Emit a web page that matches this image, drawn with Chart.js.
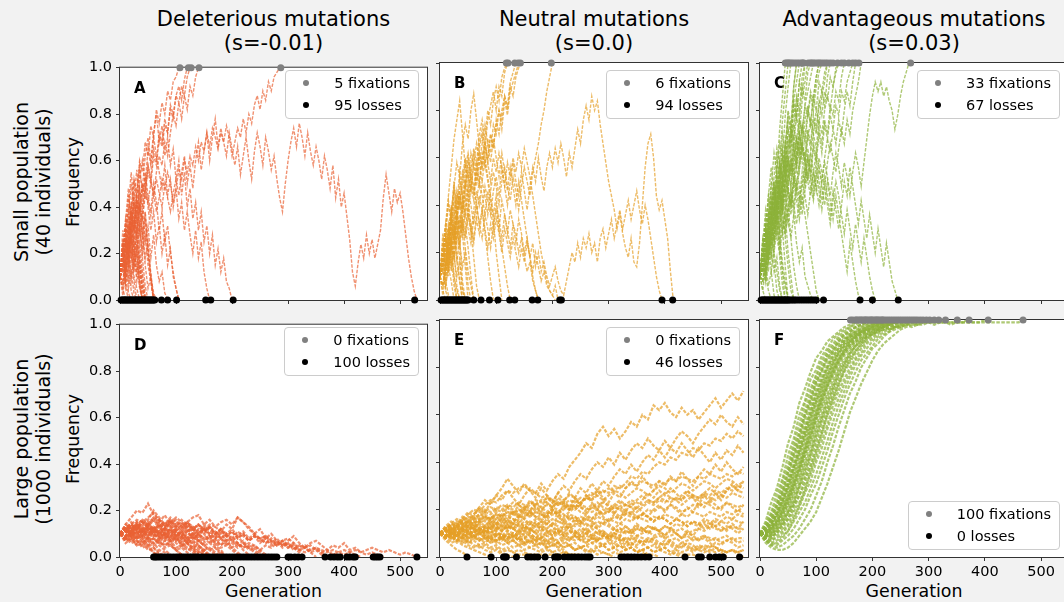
<!DOCTYPE html>
<html>
<head>
<meta charset="utf-8">
<script src="https://cdn.jsdelivr.net/npm/chart.js@4.4.0/dist/chart.umd.min.js"></script>
<style>
  body { margin: 0; width: 1064px; height: 602px; background: #f2f2f2; position: relative; overflow: hidden;
         font-family: "DejaVu Sans", sans-serif; color: #000; }
  canvas { position: absolute; }
  .title { position: absolute; top: 7px; width: 340px; text-align: center; font-size: 21px; line-height: 24px; white-space: nowrap; }
  .rot { position: absolute; text-align: center; transform: rotate(-90deg); white-space: nowrap; }
  .xlab { position: absolute; width: 200px; text-align: center; font-size: 17.4px; line-height: 20px; }
  .legend { position: absolute; background: rgba(255,255,255,0.85); border: 1px solid #cccccc; border-radius: 4px;
            padding: 1px 8px 2px 0; font-size: 14.5px; z-index: 5; }
  .legend .row { height: 22px; display: flex; align-items: center; padding-left: 17px; white-space: nowrap; }
  .legend .dot { width: 6px; height: 6px; border-radius: 50%; margin-right: 25px; display: inline-block; }
</style>
</head>
<body>
<script>
// generations between stored samples
const STEP_SMALL = 5;
const STEP_LARGE = 10;

// frequencies in percent, one array per simulated mutation
const trajA = [
  [10,5,0],
  [10,18,8,3,0],
  [10,14,6,0],
  [10,20,28,15,22,10,5,0],
  [10,15,30,22,38,25,12,18,5,0],
  [10,22,12,28,40,30,45,32,20,28,15,8,0],
  [10,8,15,5,12,3,0],
  [10,25,18,35,50,38,28,42,30,18,25,10,3,0],
  [10,12,20,33,25,15,20,8,0],
  [10,18,30,45,35,52,40,30,22,35,20,12,0],
  [10,5,12,20,10,25,15,5,0],
  [10,20,12,8,18,28,20,35,28,15,5,10,0],
  [10,26,16,30,20,8,0],
  [10,16,24,14,30,40,26,16,6,0],
  [10,30,20,36,24,42,34,20,10,0],
  [10,20,6,16,28,12,24,8,0],
  [10,2,12,22,8,18,30,14,4,0],
  [10,16,30,18,34,22,10,26,12,2,0],
  [10,24,10,20,32,20,8,14,0],
  [10,6,18,10,24,36,22,32,18,6,0],
  [10,18,28,40,26,14,22,6,0],
  [10,12,26,14,28,18,30,46,28,38,22,10,0],
  [10,22,8,14,4,0],
  [10,20,34,48,30,44,56,40,26,38,20,8,0],
  [10,15,25,40,55,42,35,48,38,25,32,18,28,15,8,12,3,0],
  [10,22,35,28,42,30,48,58,45,52,40,30,38,25,32,20,28,15,22,10,5,0],
  [10,15,25,20,32,42,35,48,40,55,45,38,50,42,30,38,25,32,20,12,5,0],
  [10,18,28,22,35,45,38,52,60,50,65,58,70,62,55,48,58,45,52,40,48,35,42,30,38,28,20,30,18,25,12,5,0],
  [10,20,15,28,38,30,45,55,48,62,70,60,72,80,68,75,62,70,58,65,52,60,45,55,40,48,35,42,30,38,25,32,20,28,15,22,12,18,8,5,0],
  [10,20,32,25,40,52,45,60,55,68,62,75,70,82,76,85,80,90,86,94,96,100],
  [10,15,28,20,35,30,42,38,50,45,58,52,65,60,72,68,78,72,84,80,88,92,86,95,100],
  [10,8,18,25,18,30,28,40,35,48,55,50,62,58,70,66,75,72,82,78,88,85,92,88,96,100],
  [10,18,12,25,35,30,42,38,50,48,58,52,45,55,62,58,68,62,72,80,75,85,78,88,82,92,88,96,100],
  [10,15,22,18,28,35,30,40,35,45,42,50,46,38,44,52,48,55,50,42,48,56,52,60,55,62,58,66,60,68,
   64,72,66,74,70,65,72,68,75,70,62,68,74,70,78,72,80,76,84,88,82,90,86,94,90,96,98,100],
  [10,18,12,22,30,25,35,28,40,48,42,36,45,52,46,40,50,44,38,46,
   52,45,55,62,50,58,48,60,68,56,64,72,60,70,78,66,74,68,62,72,
   65,58,66,54,62,70,60,52,64,72,66,58,70,64,56,62,52,44,38,50,
   60,68,74,66,76,70,62,72,64,58,66,60,52,62,56,48,58,44,52,40,
   46,36,26,12,6,16,24,18,28,20,26,18,24,30,44,54,46,38,48,42,
   46,38,28,18,10,4,0]
];
const fixA = [107, 122, 127, 141, 287];
const lossA = [2,4,6,8,10,12,14,16,18,20,22,24,26,28,30,32,34,36,38,40,42,44,46,48,50,52,54,56,58,60,62,
  74, 85, 101, 153, 162, 202, 526];

const trajB = [
  [10,4,0],
  [10,16,8,2,0],
  [10,18,26,16,22,10,4,0],
  [10,14,24,32,22,28,16,8,0],
  [10,20,30,42,34,26,36,24,14,20,6,0],
  [10,6,12,20,28,18,10,16,4,0],
  [10,22,16,28,36,46,38,28,34,22,12,6,0],
  [10,12,6,14,8,0],
  [10,24,32,22,36,48,40,54,44,32,22,10,0],
  [10,20,6,14,24,10,0],
  [10,2,14,26,12,20,6,0],
  [10,18,30,16,26,38,20,8,0],
  [10,24,12,30,18,6,0],
  [10,6,16,28,40,24,34,18,4,0],
  [10,16,26,10,22,32,16,26,8,0],
  [10,28,14,24,36,50,34,44,28,14,0],
  [10,12,4,0],
  [10,20,32,44,56,68,76,84,70,56,44,30,18,6,0],
  [10,18,28,40,34,48,58,52,66,74,68,80,87,76,64,70,58,50,42,34,20,10,0],
  [10,16,26,20,34,42,36,50,44,56,62,54,48,40,32,38,28,18,8,0],
  [10,20,14,28,38,30,46,40,52,60,52,46,58,66,58,50,60,52,44,36,44,30,22,14,6,0],
  [10,14,22,30,24,36,44,38,50,58,50,62,56,48,58,66,74,66,58,68,60,52,62,54,46,56,48,40,50,42,34,26,18,10,4,0],
  [10,18,12,24,32,26,38,30,42,36,48,40,32,42,50,44,36,46,38,30,40,34,26,36,30,22,32,28,20,26,18,12,16,8,4,0],
  [10,16,24,18,30,26,36,44,38,48,54,46,58,50,62,56,64,58,50,60,54,62,56,48,58,52,60,54,62,56,64,58,52,44,36,28,20,14,8,4,2,6,0],
  [10,14,20,12,22,18,28,24,32,26,36,30,24,34,28,38,30,22,32,26,34,28,20,30,24,18,26,20,14,22,16,24,18,12,20,14,8,12,6,4,2,0],
  [10,18,26,20,32,40,34,46,54,48,60,52,64,58,70,76,68,80,74,84,90,84,94,98,100],
  [10,6,14,22,16,28,36,30,42,50,44,56,62,54,66,72,64,76,82,88,80,90,86,96,100],
  [10,16,12,22,30,24,34,42,36,48,40,52,46,58,50,62,56,68,62,74,70,80,76,86,82,92,96,100],
  [10,20,14,26,34,28,40,46,38,50,58,50,44,54,62,56,66,60,70,64,74,80,72,84,78,88,92,96,100],
  [10,14,8,18,26,20,32,26,38,44,36,48,42,54,48,60,66,58,70,64,76,70,80,86,80,90,86,94,98,100],
  [10,16,22,14,26,32,24,36,30,42,36,28,38,46,40,50,44,36,46,54,48,40,50,56,48,42,52,46,38,48,56,50,44,54,60,66,74,80,88,94,100],
  [10,16,10,20,14,24,30,22,34,28,38,32,26,36,44,38,48,42,36,46,
   52,44,56,48,40,50,58,50,44,54,46,38,48,56,50,60,52,46,56,62,
   56,64,58,66,60,52,62,56,64,72,66,76,82,76,86,80,84,74,66,58,
   50,44,38,30,36,28,22,18,26,16,14,24,40,56,66,70,60,44,38,42,
   34,26,12,0],
  [10,14,20,12,24,18,28,34,26,38,30,24,34,40,32,26,36,30,22,32,
   38,30,42,36,28,38,32,24,34,28,20,26,18,24,14,20,12,16,10,6,
   10,14,8,4,2,8,14,20,16,24,18,26,22,28,20,24,16,26,30,22,
   28,34,26,32,38,30,36,42,34,40,46,38,32,40,34,26,18,10,4,0]
];
const fixB = [118, 121, 133, 139, 143, 198];
const lossB = [2,4,6,8,10,12,14,16,18,20,22,24,26,28,30,32,34,36,38,40,42,44,46,48,50,
  60, 73, 88, 103, 124, 133, 164, 174, 213, 216, 395, 414];

const trajC = [
  [10,4,0],
  [10,18,10,4,0],
  [10,20,30,22,34,20,12,4,0],
  [10,14,24,36,28,44,34,22,12,6,0],
  [10,22,32,44,56,46,36,50,38,26,14,4,0],
  [10,8,16,6,12,2,0],
  [10,16,26,18,30,42,52,40,28,36,20,10,0],
  [10,20,14,26,38,30,46,58,44,32,40,26,14,6,0],
  [10,12,22,30,20,12,18,6,0],
  [10,24,34,26,40,48,36,28,16,8,0],
  [10,22,8,18,30,16,4,0],
  [10,4,14,26,12,22,34,18,6,0],
  [10,18,32,20,36,50,34,46,30,14,0],
  [10,26,14,32,46,30,42,26,12,0],
  [10,18,26,36,28,42,50,44,38,46,34,26,36,24,16,22,10,6,2,0],
  [10,22,14,28,36,30,44,38,50,58,48,40,50,42,34,44,36,28,20,12,4,0],
  [10,16,24,34,28,40,48,42,54,62,56,68,74,66,58,68,60,52,62,54,46,56,48,40,50,42,34,44,36,28,20,12,24,16,8,2,0],
  [10,20,30,24,36,44,38,50,58,52,64,70,62,56,66,58,50,60,52,44,54,46,38,48,40,32,42,50,44,36,28,38,30,22,32,24,16,26,18,10,4,0],
  [10,18,12,24,32,26,38,46,40,52,60,54,66,58,70,62,54,64,56,48,58,50,42,52,44,36,46,38,30,40,50,44,56,48,40,32,42,34,26,36,28,20,30,22,14,24,16,8,4,0],
  [10,24,38,30,48,62,54,72,86,100],
  [10,18,30,44,36,52,64,58,76,88,100],
  [10,22,16,30,42,36,54,66,60,78,90,100],
  [10,14,26,20,34,46,40,56,50,66,78,72,90,100],
  [10,26,20,36,50,42,60,52,70,62,80,74,90,100],
  [10,20,30,24,38,50,44,58,52,66,76,70,84,92,100],
  [10,14,30,22,40,32,52,44,62,54,72,64,82,76,92,100],
  [10,16,8,20,32,26,40,52,46,58,68,62,74,86,80,94,100],
  [10,20,12,28,44,36,54,46,64,56,72,66,84,78,92,86,100],
  [10,22,30,22,36,46,38,52,60,52,64,72,66,78,70,84,92,100],
  [10,18,26,40,32,48,40,58,50,66,58,74,68,84,76,90,84,96,100],
  [10,12,20,28,20,34,42,34,48,56,50,62,54,68,76,70,82,88,94,100],
  [10,18,26,18,30,40,34,46,38,50,58,52,64,58,70,64,76,82,74,86,94,100],
  [10,8,22,16,32,26,42,36,52,46,60,54,68,62,76,70,82,78,88,84,94,100],
  [10,14,22,30,24,36,28,42,50,44,56,48,60,68,62,74,66,78,86,80,90,96,100],
  [10,20,12,24,32,26,38,30,44,52,46,58,50,62,70,64,58,68,76,70,80,74,86,92,100],
  [10,16,28,20,34,44,36,52,44,60,54,48,60,68,62,74,68,80,74,86,80,92,88,96,100],
  [10,8,16,24,18,30,38,32,44,38,50,58,52,46,56,64,58,70,64,76,70,82,88,82,94,100],
  [10,16,24,32,24,36,44,36,48,40,52,60,54,48,58,66,60,72,66,78,72,84,78,88,84,94,90,98,100],
  [10,12,24,18,30,40,32,46,38,52,46,40,52,60,54,66,58,50,62,70,64,76,70,80,86,80,90,96,100],
  [10,14,20,12,24,32,26,20,30,38,32,44,36,48,42,54,48,60,54,66,60,72,66,76,70,82,78,88,84,94,100],
  [10,20,14,26,36,28,40,48,40,52,44,36,48,56,48,40,52,60,52,64,58,70,62,74,68,78,72,82,78,88,84,92,96,100],
  [10,18,12,22,30,24,36,28,40,34,46,40,52,46,38,48,56,50,44,54,62,56,50,60,68,62,72,66,76,70,80,88,82,92,100],
  [10,14,8,18,26,20,30,24,34,28,38,46,40,50,44,36,46,54,48,42,52,60,54,48,58,66,60,54,64,72,66,76,70,80,86,92,100],
  [10,16,24,18,30,38,32,44,36,28,38,46,40,32,42,50,44,36,46,54,48,40,50,58,52,44,54,62,56,48,58,52,44,54,62,56,48,
   58,68,78,86,92,88,92,86,90,84,80,72,78,86,92,96,100]
];
const fixC = [45,48,50,52,55,58,62,66,70,74,76,78,86,90,92,95,98,102,105,108,112,116,120,125,130,138,145,150,158,165,170,176,268];
const lossC = [2,4,6,8,10,12,14,16,18,20,22,24,26,28,30,32,34,36,38,40,42,44,46,48,50,52,55,58,61,64,68,72,76,80,84,88,92,96,100,
  113, 178, 200, 246];

const trajD = [
  [10,12,9,13,11,15,12,14,10,13,11,14,12,9,12,10,13,11,8,10,12,9,11,8,10,7,9,6,8,5,7,9,6,4,6,7,5,3,5,4,6,3,4,2,3,4,3,2,3,2,1,2,1,0],
  [10,14,17,20,19,23,18,16,13,15,12,10,13,11,9,12,10,8,10,7,9,6,4,5,3,1,0],
  [10,8,11,13,10,14,12,16,13,15,14,12,15,17,18,14,16,13,11,14,12,17,15,13,10,12,8,10,7,5,6,4,2,0],
  [10,12,15,13,16,14,17,15,18,14,16,13,15,12,14,11,13,10,12,9,11,8,10,7,9,8,6,8,5,7,8,6,4,5,3,4,2,0],
  [10,11,8,10,7,9,6,8,5,6,3,4,2,0],
  [10,9,12,10,13,11,9,12,10,8,11,9,7,10,8,6,9,7,5,8,6,4,6,3,4,2,0],
  [10,7,9,6,8,5,6,3,2,0],
  [10,13,11,14,12,10,13,11,9,12,10,8,6,9,7,5,3,4,1,0],
  [10,8,6,7,4,5,2,0],
  [10,12,14,12,15,13,11,14,12,15,13,16,14,12,10,13,11,9,12,10,8,11,9,7,9,6,8,5,7,4,6,3,5,4,2,3,1,0],
  [10,11,13,11,9,12,10,8,10,7,9,6,8,5,3,1,0],
  [10,9,7,9,6,8,5,7,4,5,3,1,0],
  [10,12,10,13,15,13,16,14,12,15,17,15,13,11,14,12,10,8,11,9,7,5,7,4,2,0],
  [10,11,9,12,10,8,11,9,7,9,6,4,6,3,1,0],
  [10,8,10,8,9,7,8,6,5,7,4,5,3,4,2,1,0],
  [10,13,12,14,16,14,17,15,13,16,14,12,15,13,11,14,12,10,12,9,11,8,10,7,9,8,6,7,5,6,4,5,3,4,5,3,2,3,1,2,3,2,1,0],
  [10,9,11,8,10,12,9,11,8,10,7,9,6,7,5,3,4,2,0],
  [10,12,9,11,8,6,8,5,3,1,0],
  [10,7,8,5,6,3,4,1,0],
  [10,11,14,12,10,13,11,9,12,14,11,9,11,8,10,8,6,8,5,7,4,6,3,1,0],
  [10,12,10,9,11,9,12,10,12,11,13,11,14,12,10,12,14,13,15,16,14,17,15,12,10,8,9,7,5,7,4,6,3,4,2,0],
  [10,9,11,10,12,11,13,10,12,9,11,8,10,9,7,9,8,6,8,5,7,6,4,6,5,3,5,4,6,7,5,4,3,2,3,4,3,2,3,2,1,2,3,2,1,2,1,0],
  [10,13,11,15,12,16,20,17,14,16,13,15,11,13,10,12,9,11,8,6,4,2,0],
  [10,9,12,14,11,13,10,12,15,13,11,9,12,10,8,10,7,5,3,0],
  [10,12,11,13,12,10,12,9,11,8,10,7,9,6,4,2,0],
  [10,9,10,8,9,7,8,6,7,5,3,1,0],
  [10,11,13,12,14,13,11,13,10,12,9,11,8,6,7,5,3,1,0],
  [10,8,9,7,5,6,4,2,0],
  [10,13,14,12,15,13,11,14,12,10,12,9,11,8,10,7,9,6,4,5,3,1,0],
  [10,12,10,11,9,12,10,8,10,7,8,6,4,2,0],
  [10,11,9,12,10,8,10,7,9,6,8,5,6,4,2,3,1,0],
  [10,12,14,16,15,17,19,16,14,17,15,13,15,12,14,11,13,10,8,10,7,9,6,4,5,3,1,0],
  [10,9,11,13,11,14,12,10,13,11,9,11,8,10,7,5,6,4,2,0],
  [10,13,10,14,11,9,12,8,10,7,9,5,6,3,1,0],
  [10,7,11,8,12,9,13,10,8,11,7,9,6,4,5,2,0],
  [10,14,12,15,11,13,16,13,10,12,9,11,7,9,5,3,0],
  [10,6,8,5,7,4,2,0]
];
const fixD = [];
const lossD = [60,63,66,70,74,78,82,86,90,95,100,104,108,112,116,120,124,128,132,136,140,145,150,155,160,165,170,175,180,185,190,195,
  200,205,210,215,220,225,230,235,240,245,250,255,260,265,270,275,280,300,305,312,318,325,366,376,382,388,393,405,410,416,420,452,456,460,464,530];

const trajE = [
  [10,12,9,13,16,14,18,21,19,23, 26,24,28,25,22,26,29,27,31,28, 32,35,33,38,41,44,48,46,52,55,
   51,54,50,53,57,55,60,58,64,62, 65,61,59,63,60,62,58,61,64,67, 63,66,69,66,70],
  [10,8,11,9,12,14,12,15,13,16, 14,17,15,19,17,21,19,23,21,25, 23,27,30,28,32,35,33,37,40,38,
   42,39,44,41,45,48,46,50,47,45, 49,46,50,53,51,48,52,55,58,56, 60,57,55,59,56],
  [10,13,11,14,12,15,17,15,18,16, 19,17,21,18,22,20,24,21,19,23, 21,25,23,27,25,29,27,31,28,32,
   30,34,37,35,39,36,40,43,41,45, 42,46,44,48,45,42,46,43,40,44, 41,45,43,47,44],
  [10,9,12,10,13,11,14,12,10,13, 15,13,16,14,18,16,19,17,15,18, 20,18,22,20,24,22,26,24,28,25,
   23,27,25,29,32,30,34,31,28,32, 30,34,32,36,33,30,34,37,35,39, 36,40,37,35,38],
  [10,12,14,13,16,19,17,21,24,22, 26,29,33,30,27,31,28,25,29,26, 23,27,24,21,25,22,26,23,20,24,
   21,18,22,19,23,20,24,27,25,28, 26,29,27,24,28,25,22,26,23,27, 24,28,31,28,32],
  [10,11,9,12,10,8,11,9,12,10, 13,11,14,12,10,13,11,15,13,16, 14,17,15,13,16,14,18,16,19,17,
   15,18,16,20,18,21,19,17,20,22, 19,22,20,18,21,19,23,21,24,22, 20,23,21,19,22],
  [10,9,11,9,8,10,8,11,9,7, 9,7,10,8,11,9,12,10,8,11, 9,12,10,13,11,9,12,10,8,11,
   9,12,10,13,11,14,12,10,13,11, 9,12,10,8,11,9,12,14,12,15, 13,11,14,12,15],
  [10,8,9,7,9,6,8,7,9,8, 6,8,7,9,7,5,7,6,8,6, 8,10,8,7,9,7,6,8,6,5,
   7,5,6,4,6,5,7,6,8,6, 5,7,5,4,6,5,3,5,4,6, 5,7,6,4,5],
  [10,12,11,13,15,13,12,14,16,14, 13,15,17,16,14,17,19,17,16,18, 20,18,17,19,21,19,18,21,23,21,
   20,22,24,22,21,24,26,24,23,25, 27,25,24,26,28,26,25,27,29,27, 26,28,30,28,27],
  [10,11,13,12,14,13,15,14,12,14, 16,15,13,15,17,16,14,16,18,17, 19,18,20,22,21,23,25,24,26,28,
   27,30,29,31,34,33,36,35,38,40, 39,42,41,44,43,46,45,48,47,50, 49,52,50,53,51],
  [10,11,10,12,11,13,12,11,13,12, 14,13,12,14,13,15,14,13,15,14, 16,15,14,16,15,17,16,15,17,16,
   15,17,16,18,17,16,18,17,15,17, 16,14,16,15,13,15,14,16,15,13, 15,14,16,15,14],
  [10,12,13,12,14,15,14,16,17,16, 18,17,19,18,17,19,18,20,19,18, 20,19,21,20,22,21,20,22,21,23,
   22,21,23,22,24,23,22,24,23,25, 24,23,25,24,26,25,24,26,25,24, 26,25,27,26,25],
  [10,9,10,9,11,10,9,10,8,9, 10,9,8,10,9,8,9,7,8,9, 8,7,9,8,7,8,9,8,7,8,
   9,8,7,8,7,9,8,7,8,9, 8,7,8,6,7,8,7,9,8,7, 8,9,7,8,8],
  [10,11,12,14,13,15,14,16,15,17, 16,18,17,19,18,20,19,21,20,22, 21,23,22,24,23,25,24,26,28,27,
   29,28,30,29,31,30,32,31,30,32, 31,33,32,34,33,32,34,33,35,34, 33,35,34,36,35],
  [10,9,11,10,12,11,10,12,11,13, 12,11,13,12,14,13,12,11,13,12, 14,13,12,14,13,15,14,13,15,14,
   16,15,14,16,15,17,16,15,17,16, 18,17,16,18,17,19,18,17,19,18, 17,19,18,20,18],
  [10,9,8,9,7,8,9,7,8,6, 7,8,6,7,5,6,7,5,6,4, 5,6,4,5,3,4,5,3,4,5,
   3,4,2,3,4,2,3,4,2,3, 4,2,3,2,3,4,3,2,3,2, 3,2,3,2,3],
  [10,12,14,16,15,18,20,19,22,24, 23,26,28,27,29,30,28,27,25,26, 24,22,23,21,20,22,21,19,20,18,
   19,21,20,18,19,17,18,20,19,21, 20,22,21,19,20,22,21,23,22,20, 21,23,22,21,22],
  [10,11,12,11,13,12,14,13,12,14, 13,12,11,13,12,11,12,10,11,12, 10,11,9,10,11,9,10,12,10,11,
   9,10,12,11,10,12,11,13,12,11, 13,12,11,12,10,11,12,11,13,12, 11,12,13,12,12],
  [10,13,15,14,17,16,18,20,19,21, 20,22,21,23,22,20,22,24,23,25, 24,22,24,26,25,23,25,27,26,24,
   26,28,27,25,27,29,28,26,28,30, 29,27,29,31,30,28,30,32,31,29, 31,33,32,30,32],
  [10,8,10,9,11,10,12,11,10,12, 11,13,12,14,13,12,14,13,15,14, 13,15,14,12,14,13,11,13,12,14,
   13,11,12,10,11,9,10,11,9,10, 8,9,10,8,9,7,8,9,7,8, 6,7,8,6,7],
  [10,12,13,15,14,16,15,17,19,18, 20,19,21,20,19,21,23,22,24,23, 21,23,22,20,22,21,19,21,20,18,
   20,19,17,19,18,16,18,17,15,17, 16,14,16,15,13,15,14,12,14,13, 11,13,12,10,12],
  [10,9,11,12,11,13,12,11,13,15, 14,16,15,14,16,18,17,19,18,17, 19,18,16,18,17,15,17,16,18,20,
   19,21,20,22,21,19,21,23,22,24, 23,25,24,22,24,26,25,27,26,28, 27,29,28,30,29],
  [10,11,10,9,11,10,8,10,9,7, 9,8,10,9,7,8,6,8,7,5, 7,6,8,7,9,8,6,8,7,9,
   8,10,9,11,10,12,11,13,12,11, 13,12,14,13,15,14,13,15,14,16, 15,17,16,18,17],
  [10,12,11,13,15,14,16,18,17,15, 17,16,14,16,15,13,15,14,12,14, 13,11,13,12,10,12,11,9,11,10,
   8,10,9,7,9,8,6,8,7,5, 7,6,4,6,5,3,5,4,2,4, 3,2,3,2,3],
  [10,9,8,10,9,7,9,8,6,8, 7,9,8,10,9,11,10,8,10,9, 11,10,12,11,9,11,10,8,10,9,
   7,9,8,6,8,7,5,7,6,4, 6,5,3,5,4,2,4,3,5,4, 3,2,3,1,0],
  [10,12,11,13,12,14,13,15,17,16, 18,17,19,18,20,19,17,19,18,16, 18,17,15,17,16,14,16,15,13,15,
   14,12,14,13,11,13,12,10,12,11, 9,11,10,8,10,9,7,8,6,4, 2,0],
  [10,9,11,10,12,11,13,12,11,13, 12,14,13,12,10,12,11,13,12,10, 12,11,9,11,10,8,10,9,7,9,
   8,6,8,7,5,7,6,4,5,3, 4,2,1,0],
  [10,9,11,10,9,11,10,12,11,10, 12,11,13,12,11,13,12,10,12,11, 9,11,10,8,9,7,8,6,7,5,
   6,4,5,3,4,2,3,1,1,0],
  [10,12,14,13,15,17,16,18,20,19, 21,20,22,21,23,22,20,22,21,19, 21,20,18,16,17,15,13,14,12,10,
   8,9,7,5,6,4,2,0],
  [10,11,12,10,11,13,12,10,11,9, 10,8,9,7,8,6,7,5,6,4, 5,6,4,5,3,4,3,2,3,2, 1,2,1,1,1,0],
  [10,8,9,7,8,10,9,11,10,8, 10,9,7,9,8,6,8,7,5,7, 6,4,6,5,3,4,2,3,1,2, 1,0],
  [10,11,9,10,8,9,11,10,8,9, 7,8,6,7,5,6,4,5,3,4, 2,3,2,1,1,1,0],
  [10,12,11,13,12,11,13,12,10,12, 11,9,11,10,8,10,9,7,8,6, 5,4,3,1,0],
  [10,12,11,9,10,8,9,7,8,6, 7,5,6,4,5,3,4,3,2,3, 2,1,2,1,1,0],
  [10,8,9,7,8,6,7,5,6,4, 5,3,4,2,3,2,1,1,1,1, 1,0],
  [10,9,7,8,6,7,5,4,5,3, 4,2,3,2,1,1,1,0],
  [10,8,9,6,7,5,4,5,3,2, 3,1,1,0],
  [10,8,6,7,5,4,3,2,1,0],
  [10,7,5,3,2,0],
  [10,9,10,8,9,11,10,12,10,11, 9,10,8,9,7,8,10,8,9,7, 8,6,7,5,6,4,5,6,4,5,
   3,4,5,3,4,2,3,4,2,3, 2,1,2,1,1,1,0]
];
const fixE = [];
const lossE = [48, 91, 113, 116, 118, 136, 156, 162, 168, 174, 187, 204, 208, 211, 221, 228, 234, 240, 246, 252, 258, 263, 267,
  322, 328, 334, 340, 346, 352, 358, 365, 372, 436, 460, 465, 480, 490, 497, 504, 533];

const trajF = [
  [10,15,23,29,38,48,55,65,71,78,84,87,91,93,95,97,98,99,100],
  [10,14,19,27,33,43,50,60,66,75,79,85,88,92,94,96,97,99,100],
  [10,13,18,24,32,39,48,56,65,71,77,83,87,90,93,95,97,98,99,100],
  [10,12,17,22,30,37,46,53,62,69,76,81,86,89,92,94,96,97,98,99,100],
  [10,12,15,21,27,35,43,50,60,66,74,79,85,88,91,94,95,97,98,99,99,100],
  [10,11,16,19,27,33,42,49,58,65,72,78,83,87,91,93,95,97,98,99,100],
  [10,11,14,19,25,32,39,48,55,63,70,76,81,86,89,92,94,96,97,98,99,99,100],
  [10,9,14,18,24,31,38,46,54,61,69,74,80,85,88,91,94,95,97,98,99,100],
  [10,12,14,18,24,30,38,45,53,61,68,75,80,84,88,91,93,95,96,97,98,99,100],
  [10,10,13,17,23,29,36,44,51,59,66,73,79,83,87,90,93,95,96,97,98,99,99,100],
  [10,11,12,17,21,28,34,42,50,57,65,71,77,82,86,90,92,94,96,97,98,99,100],
  [10,9,12,15,21,26,34,40,48,56,63,70,76,81,86,89,92,94,95,97,98,99,99,100],
  [10,10,11,15,19,26,31,39,46,55,61,69,75,80,84,88,91,93,95,96,97,98,99,99,100],
  [10,9,12,14,19,24,31,37,46,52,61,67,74,79,84,87,90,93,95,96,97,98,99,100],
  [10,10,13,15,20,25,32,38,45,54,60,68,73,79,83,87,91,93,95,96,97,98,99,99,100],
  [10,11,10,14,17,23,29,36,43,51,58,66,72,78,83,87,90,92,94,96,97,98,99,99,100],
  [10,9,11,13,18,22,29,34,43,49,58,64,72,77,82,86,89,92,94,95,97,98,98,99,100],
  [10,10,9,13,16,21,27,33,40,48,55,63,69,75,80,85,88,91,93,95,96,97,98,99,99,100],
  [10,8,10,12,16,19,26,31,39,45,54,60,68,73,79,83,87,90,93,94,96,97,98,99,99,100],
  [10,9,10,11,15,19,24,30,37,44,52,59,66,72,78,82,86,89,92,94,95,97,98,98,99,100],
  [10,9,9,12,14,19,23,30,36,43,51,58,65,71,77,81,86,89,91,94,95,96,98,98,99,100],
  [10,9,8,11,13,18,22,29,34,42,49,57,63,70,76,81,85,89,91,93,95,96,97,98,99,99,100],
  [10,8,9,10,14,16,22,26,33,39,47,54,62,68,74,79,84,87,90,93,94,96,97,98,99,99,100],
  [10,9,8,10,12,16,20,26,31,38,45,52,60,66,72,78,82,86,89,92,94,95,97,98,99,99,100],
  [10,7,5,6,8,11,16,22,28,36,44,52,60,67,73,79,83,87,90,92,94,96,97,98,99,99,100],
  [10,8,7,9,11,14,19,23,29,35,42,49,56,64,70,75,80,84,88,91,93,95,96,97,98,99,99,100],
  [10,8,7,8,10,13,17,21,27,32,40,46,54,61,67,73,78,83,86,90,92,94,96,97,98,99,99,100],
  [10,7,6,7,9,11,15,19,23,29,35,42,49,57,64,70,76,81,85,88,91,93,95,96,97,98,99,99,100],
  [10,8,6,5,7,9,12,16,20,26,31,38,45,53,60,67,73,78,83,86,89,92,94,95,97,98,99,99,100],
  [10,7,5,4,5,7,9,12,16,20,26,32,40,47,55,62,69,74,80,84,88,90,93,95,96,97,98,99,99,100],
  [10,6,4,3,3,4,6,9,12,15,19,25,31,38,45,53,61,67,73,78,83,87,90,92,94,96,97,98,99,99,100],
  [10,12,14,18,23,30,37,44,52,59,66,72,77,82,86,89,91,93,94,95,96,96,97,96,97,97,98,97,98,98,99,98,99,99,98,99,99,99,99,99,99,99,99,99,99,99,99,100],
  [10,13,16,22,28,36,44,52,60,67,74,79,84,87,90,92,93,94,95,96,96,97,97,98,97,98,98,99,98,99,99,99,99,99,99,99,99,100],
  [10,10,12,15,19,24,30,37,44,51,59,66,72,77,82,86,89,91,92,93,94,95,96,96,97,97,98,98,98,99,99,99,99,99,99,99,99,99,99,99,100]
];
const fixF = [161,165,170,172,175,178,180,183,186,188,190,193,196,198,200,203,206,208,210,213,216,218,220,224,228,232,236,240,
  244,248,252,256,260,264,268,272,276,280,285,290,296,302,310,318,330,351,372,406,468];
const lossF = [];

const fixCounts = [5, 6, 33, 0, 0, 100];
const lossCounts = [95, 94, 67, 100, 46, 0];

const colTitles = [['Deleterious mutations', '(s=-0.01)'], ['Neutral mutations', '(s=0.0)'], ['Advantageous mutations', '(s=0.03)']];
const rowTitles = [['Small population', '(40 individuals)'], ['Large population', '(1000 individuals)']];
const xTicks = [0, 100, 200, 300, 400, 500];
const yTicks = [0, 0.2, 0.4, 0.6, 0.8, 1.0];

// layout
const colLeft = [120, 440, 760];
const colWidth = [307, 308, 308];
const rowTop = [63, 320];
const PLOT_H = 237;
const PAD_L = 45, PAD_R = 8, PAD_T = 8, PAD_B = 30;
const FONT = '"DejaVu Sans", sans-serif';

const RED = '233,98,52', ORANGE = '229,160,40', GREEN = '141,178,58';
const panels = [
  { letter: 'A', row: 0, col: 0, traj: trajA, fix: fixA, loss: lossA, step: STEP_SMALL, rgb: RED, lw: 1.4 },
  { letter: 'B', row: 0, col: 1, traj: trajB, fix: fixB, loss: lossB, step: STEP_SMALL, rgb: ORANGE, lw: 1.4 },
  { letter: 'C', row: 0, col: 2, traj: trajC, fix: fixC, loss: lossC, step: STEP_SMALL, rgb: GREEN, lw: 1.4 },
  { letter: 'D', row: 1, col: 0, traj: trajD, fix: fixD, loss: lossD, step: STEP_LARGE, rgb: RED, lw: 2.2 },
  { letter: 'E', row: 1, col: 1, traj: trajE, fix: fixE, loss: lossE, step: STEP_LARGE, rgb: ORANGE, lw: 2.2 },
  { letter: 'F', row: 1, col: 2, traj: trajF, fix: fixF, loss: lossF, step: STEP_LARGE, rgb: GREEN, lw: 2.2, legendBottom: true }
];

const panelFrame = {
  id: 'panelFrame',
  beforeDraw(chart) {
    const a = chart.chartArea, ctx = chart.ctx;
    ctx.save();
    ctx.fillStyle = '#ffffff';
    ctx.fillRect(a.left, a.top, a.right - a.left, a.bottom - a.top);
    ctx.restore();
  },
  beforeDatasetsDraw(chart, args, opts) {
    const a = chart.chartArea, ctx = chart.ctx;
    ctx.save();
    ctx.strokeStyle = '#333333';
    ctx.lineWidth = 1;
    ctx.strokeRect(a.left - 0.5, a.top - 0.5, a.right - a.left + 1, a.bottom - a.top + 1);
    ctx.font = 'bold 15px ' + FONT;
    ctx.fillStyle = '#000';
    ctx.fillText(opts.letter, a.left + 14, a.top + 25);
    ctx.restore();
  }
};

function addText(cls, html, css) {
  const d = document.createElement('div');
  d.className = cls;
  d.innerHTML = html;
  Object.assign(d.style, css);
  document.body.appendChild(d);
  return d;
}

colTitles.forEach((t, i) => {
  const cx = colLeft[i] + colWidth[i] / 2;
  addText('title', t.join('<br>'), { left: (cx - 170) + 'px' });
});

rowTitles.forEach((t, r) => {
  const cy = rowTop[r] + PLOT_H / 2;
  addText('rot', t.join('<br>'), { width: '240px', height: '44px', left: (32 - 120) + 'px', top: (cy - 22) + 'px',
    fontSize: '19px', lineHeight: '22px' });
  addText('rot', 'Frequency', { width: '130px', height: '20px', left: (73 - 65) + 'px', top: (cy - 10) + 'px',
    fontSize: '17.4px', lineHeight: '20px' });
});

colLeft.forEach((l, i) => {
  addText('xlab', 'Generation', { left: (l + colWidth[i] / 2 - 100) + 'px', top: '581px' });
});

function makePanel(p, idx) {
  const left = colLeft[p.col], top = rowTop[p.row], w = colWidth[p.col];
  const canvas = document.createElement('canvas');
  canvas.width = w + PAD_L + PAD_R;
  canvas.height = PLOT_H + PAD_T + PAD_B;
  canvas.style.left = (left - PAD_L) + 'px';
  canvas.style.top = (top - PAD_T) + 'px';
  document.body.appendChild(canvas);

  const datasets = [];
  datasets.push({ data: p.fix.map(g => ({ x: g, y: 1 })), backgroundColor: '#808080', pointRadius: 3.5,
    pointBorderWidth: 0, showLine: false, clip: false });
  datasets.push({ data: p.loss.map(g => ({ x: g, y: 0 })), backgroundColor: '#000000', pointRadius: 3.5,
    pointBorderWidth: 0, showLine: false, clip: false });
  p.traj.forEach(t => {
    datasets.push({
      data: t.map((v, i) => ({ x: i * p.step, y: v / 100 })),
      showLine: true, borderColor: 'rgba(' + p.rgb + ',0.7)', borderWidth: p.lw, borderDash: [3.5, 1.5],
      pointRadius: 0, fill: false, tension: 0
    });
  });

  const tickFont = { family: FONT, size: 14.5 };
  new Chart(canvas, {
    type: 'scatter',
    data: { datasets },
    options: {
      responsive: false,
      animation: false,
      devicePixelRatio: 1,
      events: [],
      layout: { padding: { left: 0, top: PAD_T, right: PAD_R, bottom: 0 } },
      plugins: { legend: { display: false }, tooltip: { enabled: false }, panelFrame: { letter: p.letter } },
      scales: {
        x: {
          type: 'linear', min: 0, max: 548,
          afterBuildTicks: s => { s.ticks = xTicks.map(v => ({ value: v })); },
          ticks: { display: p.row === 1, font: tickFont, color: '#000', padding: 3, maxRotation: 0, autoSkip: false, includeBounds: false },
          grid: { drawOnChartArea: false, drawTicks: true, tickLength: 4, color: '#333333' },
          border: { display: false },
          afterFit: s => { s.height = PAD_B; }
        },
        y: {
          type: 'linear', min: 0, max: 1,
          afterBuildTicks: s => { s.ticks = yTicks.map(v => ({ value: v })); },
          ticks: { display: p.col === 0, font: tickFont, color: '#000', padding: 4, includeBounds: false,
            callback: v => v.toFixed(1) },
          grid: { drawOnChartArea: false, drawTicks: true, tickLength: 4, color: '#333333' },
          border: { display: false },
          afterFit: s => { s.width = PAD_L; }
        }
      }
    },
    plugins: [panelFrame]
  });

  // legend box
  const lg = document.createElement('div');
  lg.className = 'legend';
  lg.innerHTML =
    '<div class="row"><span class="dot" style="background:#808080"></span>' + fixCounts[idx] + ' fixations</div>' +
    '<div class="row"><span class="dot" style="background:#000"></span>' + lossCounts[idx] + ' losses</div>';
  lg.style.right = (1064 - (left + w - 8)) + 'px';
  if (p.legendBottom) lg.style.bottom = (602 - (top + PLOT_H - 7)) + 'px';
  else lg.style.top = (top + 7) + 'px';
  document.body.appendChild(lg);
}

panels.forEach(makePanel);
</script>
</body>
</html>
